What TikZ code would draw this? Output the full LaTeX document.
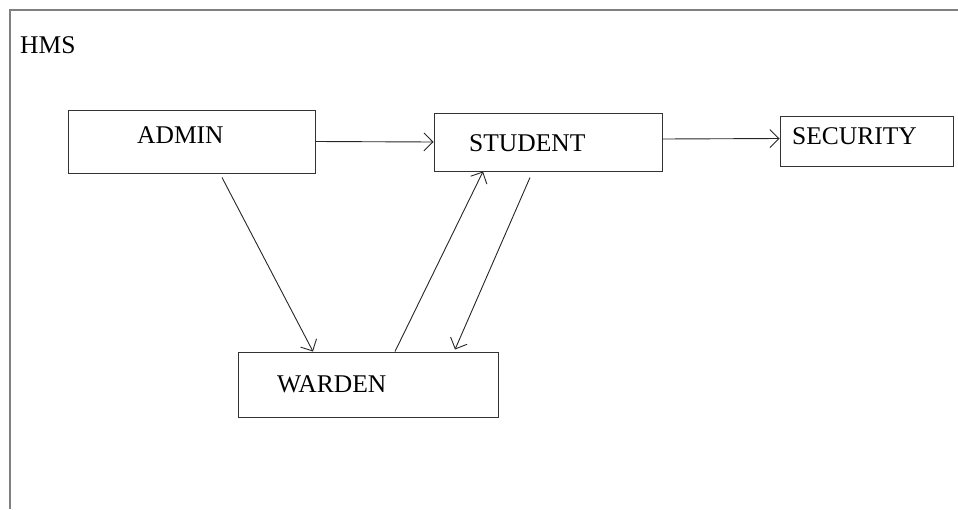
\documentclass[tikz,border=0pt]{standalone}
\usepackage{fontspec}
\setmainfont{Liberation Serif}
\usetikzlibrary{arrows.meta}

\begin{document}
\begin{tikzpicture}[x=1pt, y=-1pt, >={Straight Barb[length=9pt, width=18pt]},
	box/.style={draw=black!80, line width=1pt, inner sep=0pt},
	lbl/.style={anchor=base west, inner sep=0pt, font=\fontsize{25.5}{30}\selectfont},
	arr/.style={->, black!85, line width=0.9pt}]
	\useasboundingbox (0,0) rectangle (958,509);
	\draw[gray, line width=1.6pt] (10,509) -- (10,10) -- (958,10);
	\node[lbl] (hms) at (20,53) {HMS};
	% boxes
	\node[box, minimum width=247pt, minimum height=63pt] (admin) at (191.5,141.5) {};
	\node[box, minimum width=228pt, minimum height=58pt] (student) at (548,142) {};
	\node[box, minimum width=173pt, minimum height=50pt] (security) at (866.5,141) {};
	\node[box, minimum width=260pt, minimum height=65pt] (warden) at (368,384.5) {};
	\node[lbl] (admintxt) at (137,143) {ADMIN};
	\node[lbl] (studenttxt) at (469,151) {STUDENT};
	\node[lbl] (securitytxt) at (792,144) {SECURITY};
	\node[lbl] (wardentxt) at (277,392) {WARDEN};
	% arrows
	\draw[arr] (admin.east) -- (student.west);
	\draw[arr] ([yshift=3pt]student.east) -- ([yshift=2.5pt]security.west);
	\draw[arr] ([xshift=30.5pt, yshift=-4pt]admin.south) -- ([xshift=-55pt]warden.north);
	\draw[arr] ([xshift=27pt]warden.north) -- ([xshift=-65pt]student.south);
	\draw[arr] ([xshift=-18pt, yshift=-6pt]student.south) -- ([xshift=87pt, yshift=2pt]warden.north);
\end{tikzpicture}
\end{document}
